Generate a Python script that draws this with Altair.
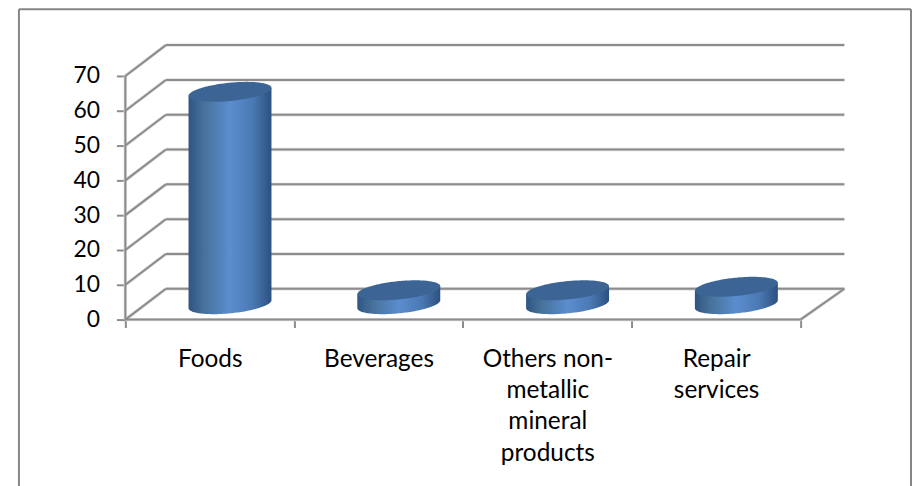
import altair as alt
import numpy as np
import pandas as pd

categories = [["Foods"], ["Beverages"], ["Others non-", "metallic", "mineral", "products"], ["Repair", "services"]]
values = [61, 4, 4, 5]
y_ticks = [0, 10, 20, 30, 40, 50, 60, 70]
x_ticks = [0, 1, 2, 3, 4]
label_pos = [0.5, 1.5, 2.5, 3.5]

DX, DY = 0.24, 8.85          # depth of the 3-D box, in axis units
XMAX, YMAX = 4.26, 70 + DY   # the right-hand depth edge runs slightly longer
HALF_W, SHEAR, ARC = 0.2457, 1.14, 2.63   # cylinder cross-section, in axis units
GRID = "#8c8c8c"
FONT = "Lato"

xs = alt.Scale(domain=[0, XMAX], nice=False, zero=False)
ys = alt.Scale(domain=[0, YMAX], nice=False, zero=False)

def X(f="x", axis=None):
    return alt.X(f, type="quantitative", scale=xs, axis=axis, title=None)

def Y(f="y", axis=None):
    return alt.Y(f, type="quantitative", scale=ys, axis=axis, title=None)

# box lines
segs = []
for v in y_ticks:
    segs.append(dict(x=DX, x2=XMAX, y=v + DY, y2=v + DY))
    segs.append(dict(x=0, x2=DX, y=v, y2=v + DY))
segs.append(dict(x=4, x2=XMAX, y=0, y2=DY))
segs.append(dict(x=0, x2=0, y=0, y2=70))
segs.append(dict(x=0, x2=4, y=0, y2=0))
segs = pd.DataFrame(segs)

def rules(color, width):
    return alt.Chart(segs).mark_rule(color=color, strokeWidth=width).encode(
        x=X(), x2="x2", y=Y(), y2="y2")

halo = rules("#dedede", 3.4)
grid = rules(GRID, 2)

# cylinders
body, top = [], []
for i, v in enumerate(values):
    cx = i + 0.5 + DX / 2
    base, head = DY / 2, DY / 2 + v
    for t in np.linspace(np.pi, 0, 81):
        u = np.cos(t)
        arc = ARC * np.sin(t)
        body.append(dict(i=i, x=cx + HALF_W * u, y=head + SHEAR * u, y2=base + SHEAR * u - arc))
        top.append(dict(i=i, x=cx + HALF_W * u, y=head + SHEAR * u + arc, y2=head + SHEAR * u - arc))
body, top = pd.DataFrame(body), pd.DataFrame(top)

grad = alt.Gradient(
    gradient="linear", x1=0, x2=1, y1=0, y2=0,
    stops=[
        alt.GradientStop(color="#2f5583", offset=0),
        alt.GradientStop(color="#467199", offset=0.18),
        alt.GradientStop(color="#5b8dcf", offset=0.5),
        alt.GradientStop(color="#4a78b2", offset=0.78),
        alt.GradientStop(color="#2c5080", offset=1),
    ],
)
bodies = alt.Chart(body).mark_area(color=grad, clip=False).encode(
    x=X(), y=Y(), y2="y2", detail="i:N")
tops = alt.Chart(top).mark_area(color="#3c6595", clip=False).encode(
    x=X(), y=Y(), y2="y2", detail="i:N")

# axes
y_axis = alt.Chart(pd.DataFrame({"y": y_ticks})).mark_point(opacity=0).encode(
    y=Y(axis=alt.Axis(values=y_ticks, domain=False, grid=False, tickColor=GRID, tickWidth=2,
                      tickSize=9, labelFontSize=23, labelFont=FONT, labelColor="#000000",
                      labelPadding=17)))
x_tick_axis = alt.Chart(pd.DataFrame({"x": x_ticks})).mark_point(opacity=0).encode(
    x=X(axis=alt.Axis(values=x_ticks, orient="bottom", domain=False, grid=False, labels=False,
                      tickColor=GRID, tickWidth=2, tickSize=8)))
names = "[" + ",".join("[" + ",".join(f"'{p}'" for p in c) + "]" for c in categories) + "]"
x_label_axis = alt.Chart(pd.DataFrame({"x": label_pos})).mark_point(opacity=0).encode(
    x=X(axis=alt.Axis(values=label_pos, orient="bottom", domain=False, grid=False, ticks=False,
                      labelFontSize=24.5, labelFont=FONT, labelColor="#000000", labelPadding=28,
                      labelAngle=0, labelLineHeight=31.5, labelOverlap=False, labelFlush=False,
                      labelExpr=f"{names}[floor(datum.value)]")))

# outer frame of the figure (pixel offsets from the plot area)
frame = alt.Chart(pd.DataFrame({"a": [0]})).mark_rule(color="#868686", strokeWidth=2)
frame_top = frame.encode(x=alt.value(-107), x2=alt.value(790), y=alt.value(-36), y2=alt.value(-36))
frame_l = frame.encode(x=alt.value(-107), x2=alt.value(-107), y=alt.value(-36), y2=alt.value(450))
frame_r = frame.encode(x=alt.value(790), x2=alt.value(790), y=alt.value(-36), y2=alt.value(450))

chart = alt.layer(
    frame_top, frame_l, frame_r, halo, grid, y_axis, x_tick_axis, x_label_axis, bodies, tops
).resolve_axis(x="independent", y="independent").properties(
    width=723, height=276, background="#ffffff",
    autosize=alt.AutoSizeParams(type="none"),
    padding=alt.Padding(left=118, top=36, right=68, bottom=166),
).configure_view(stroke=None)

chart.save("out.html", embed_options={"renderer": "svg", "actions": False})
